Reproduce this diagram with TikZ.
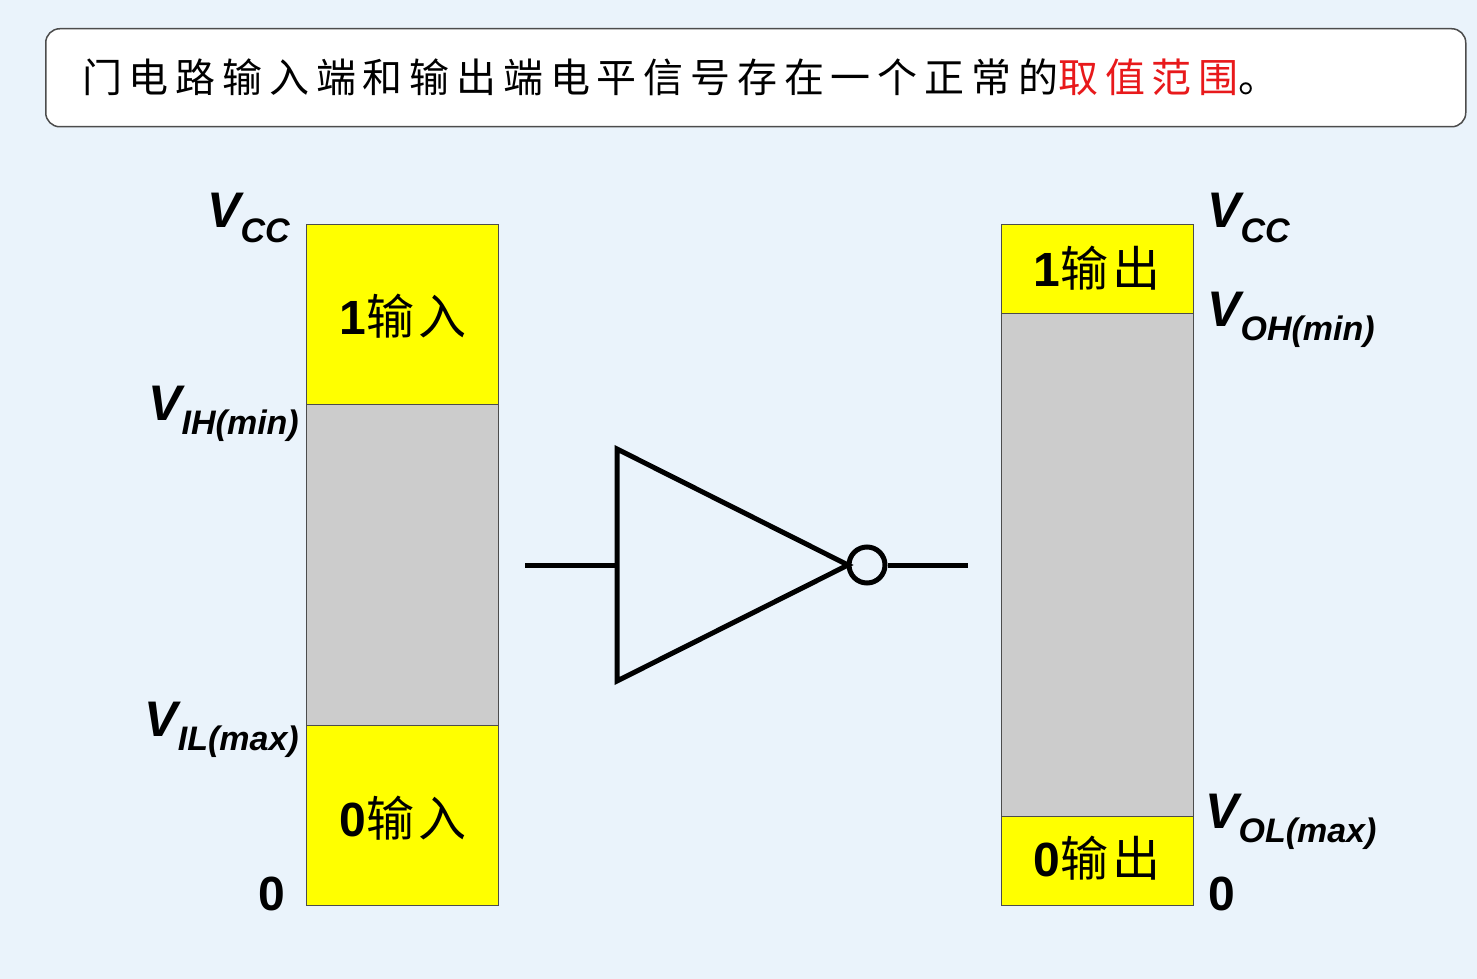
\documentclass[tikz,border=0pt]{standalone}
\usepackage{fontspec}
\setmainfont{Liberation Sans}
\newfontfamily\cjk{Noto Sans CJK SC}
\newfontfamily\cjkwide[LetterSpace=17]{Noto Sans CJK SC}
\newfontfamily\cjkbar[LetterSpace=8]{Noto Sans CJK SC}
\definecolor{bg}{HTML}{EAF3FB}
\definecolor{ylw}{HTML}{FFFF00}
\definecolor{gry}{HTML}{CCCCCC}
\definecolor{rd}{HTML}{E8191B}
\newcommand{\vsub}[1]{\raisebox{-0.55ex}{\fontsize{34}{34}\selectfont #1}}
\begin{document}
\begin{tikzpicture}[x=1pt,y=-1pt,
  bar/.style={draw=black!70,line width=1pt},
  vlab/.style={font=\fontsize{50}{50}\selectfont\bfseries\itshape,inner sep=0pt},
  blab/.style={font=\fontsize{48}{48}\selectfont\bfseries,inner sep=0pt},
  wire/.style={line width=5pt}]
\fill[bg] (0,0) rectangle (1477,979);
\useasboundingbox (0,0) rectangle (1477,979);
\node[draw=black!70,line width=1.5pt,fill=white,rounded corners=14pt,minimum width=1420pt,minimum height=98pt,anchor=north west] (title) at (45,28) {};
\node[anchor=west,inner sep=0pt,font=\fontsize{40}{40}\selectfont\cjkwide] (tt) at (82,77) {门电路输入端和输出端电平信号存在一个正常的\textcolor{rd}{取值范围}。};
% left bar
\node[bar,fill=ylw,minimum width=192pt,minimum height=180pt,anchor=north west,inner sep=0pt] (l1) at (306,224) {};
\node[bar,fill=gry,minimum width=192pt,minimum height=321pt,anchor=north west,inner sep=0pt] (lg) at (306,404) {};
\node[bar,fill=ylw,minimum width=192pt,minimum height=180pt,anchor=north west,inner sep=0pt] (l0) at (306,725) {};
\node[blab] at (403,316) {1{\cjkbar\mdseries 输入}};
\node[blab] at (403,818) {0{\cjkbar\mdseries 输入}};
% right bar
\node[bar,fill=ylw,minimum width=192pt,minimum height=89pt,anchor=north west,inner sep=0pt] (r1) at (1001,224) {};
\node[bar,fill=gry,minimum width=192pt,minimum height=503pt,anchor=north west,inner sep=0pt] (rg) at (1001,313) {};
\node[bar,fill=ylw,minimum width=192pt,minimum height=89pt,anchor=north west,inner sep=0pt] (r0) at (1001,816) {};
\node[blab] at (1097,268) {1{\cjkbar\mdseries 输出}};
\node[blab] at (1097,858) {0{\cjkbar\mdseries 输出}};
% labels
\node[vlab,anchor=east] (a) at (290,218) {V\vsub{CC}};
\node[vlab,anchor=east] (b) at (299,414) {V\vsub{IH(min)}};
\node[vlab,anchor=east] (c) at (299,730) {V\vsub{IL(max)}};
\node[vlab,anchor=east,font=\fontsize{48}{48}\selectfont\bfseries] (d) at (285,894) {0};
\node[vlab,anchor=west] (e) at (1207,218) {V\vsub{CC}};
\node[vlab,anchor=west] (f) at (1207,320) {V\vsub{OH(min)}};
\node[vlab,anchor=west] (g) at (1205,822) {V\vsub{OL(max)}};
\node[vlab,anchor=west,font=\fontsize{48}{48}\selectfont\bfseries] (h) at (1208,894) {0};
% inverter
\coordinate (in) at (525,565);
\coordinate (out) at (968,565);
\draw[wire,line join=miter] (617,449) -- (617,681) -- (848,565) -- cycle;
\node[circle,draw,line width=5pt,minimum size=36pt,inner sep=0pt] (bub) at (867,565) {};
\draw[wire] (in) -- (617,565);
\draw[wire] (bub.east) -- (out);
\end{tikzpicture}
\end{document}
